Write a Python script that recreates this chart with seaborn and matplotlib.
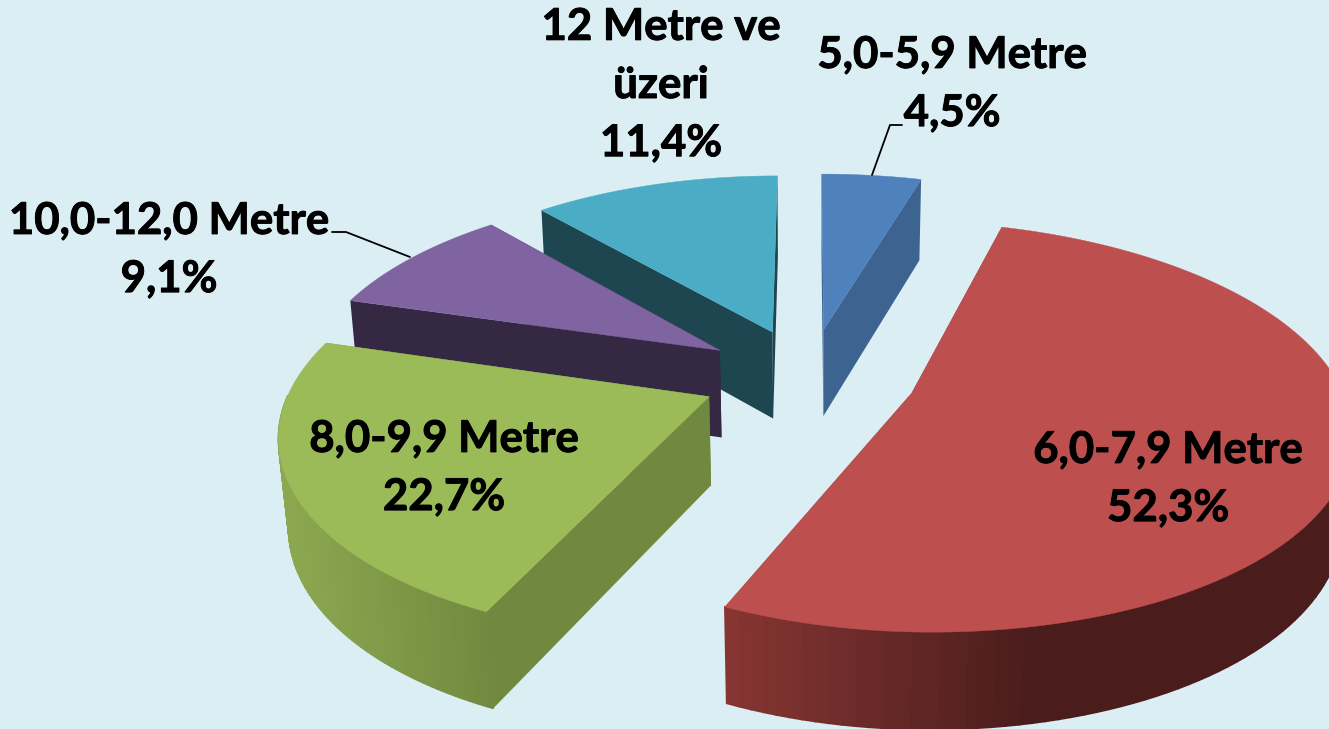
import numpy as np
import seaborn as sns
import matplotlib.pyplot as plt
import matplotlib.patheffects as pe
from matplotlib.colors import to_rgb

sns.set_style("white")

#%% Data
categories = ["5,0-5,9 Metre", "6,0-7,9 Metre", "8,0-9,9 Metre", "10,0-12,0 Metre", "12 Metre ve\nüzeri"]
shares = [4.5, 52.3, 22.7, 9.1, 11.4]
value_labels = ["4,5%", "52,3%", "22,7%", "9,1%", "11,4%"]

top_colors = ["#4f81bd", "#bd504e", "#9bbb59", "#8064a2", "#4bacc6"]
side_colors = ["#3d6491", "#883634", "#71893f", "#342842", "#1e4650"]
wall_colors = [("#3d6491", "#3d6491"), ("#883634", "#4a1d1c"), ("#8ba850", "#71893f"),
               ("#342842", "#342842"), ("#1e4650", "#1e4650")]
wall_x_range = [(800, 950), (720, 1030), (285, 490), (340, 500), (530, 780)]

label_pos = [(952, 84), (1168, 479), (444, 468), (169, 250), (661, 85)]

# projection of the tilted pie
CX, CY = 809, 376
RADIUS = 432
LEFT_SQUEEZE = 0.96
RIGHT_SQUEEZE = 0.985
EXPLODE = 108
TILT = 0.45
DIST = 2680
HEIGHT = 88
BG = "#daeef4"


def project(u, v, z=0.0):
    s = DIST / (DIST + v + 50 * z)
    s0 = DIST / (DIST + v)
    x = CX + u * s
    y = CY - TILT * v * s0 + HEIGHT * z * (1 + (s0 - 1) * 0.5)
    return x, y


def blend(c1, c2, t):
    c1, c2 = np.array(to_rgb(c1)), np.array(to_rgb(c2))
    return tuple(c1 + (c2 - c1) * np.clip(t, 0, 1))


#%% Wedges
fig = plt.figure(figsize=(13.29, 7.29), dpi=100, facecolor=BG)
ax = fig.add_axes([0, 0, 1, 1])
ax.set_xlim(0, 1329)
ax.set_ylim(729, 0)
ax.axis("off")

edges = np.concatenate([[0], np.cumsum(shares)]) / np.sum(shares) * 2 * np.pi

def wedge_outline(i, z):
    mid = (edges[i] + edges[i + 1]) / 2
    u0, v0 = EXPLODE * np.sin(mid), EXPLODE * np.cos(mid)
    t = np.linspace(edges[i], edges[i + 1], 120)
    du = RADIUS * np.sin(t)
    du = np.where(du < 0, du * LEFT_SQUEEZE, du * RIGHT_SQUEEZE)
    u = u0 + du
    v = v0 + RADIUS * np.cos(t)
    apex = project(u0, v0, z)
    arc_x, arc_y = project(u, v, z)
    return apex, arc_x, arc_y, t

# back to front
for i in [0, 4, 3, 2, 1]:
    a0, x0, y0, t = wedge_outline(i, 0.0)
    a1, x1, y1, t = wedge_outline(i, 1.0)
    # radial side faces
    ax.fill([a0[0], x0[0], x1[0], a1[0]], [a0[1], y0[0], y1[0], a1[1]], color=side_colors[i], lw=0)
    ax.fill([a0[0], x0[-1], x1[-1], a1[0]], [a0[1], y0[-1], y1[-1], a1[1]], color=side_colors[i], lw=0)
    # outer wall, shaded strip by strip, front half only
    lo, hi = wall_x_range[i]
    for j in range(len(x0) - 1):
        if np.cos(t[j]) > 0:
            continue
        col = blend(wall_colors[i][0], wall_colors[i][1], ((x0[j] + x0[j + 1]) / 2 - lo) / (hi - lo))
        ax.fill([x0[j], x0[j + 1], x1[j + 1], x1[j]], [y0[j], y0[j + 1], y1[j + 1], y1[j]], color=col, lw=1.2)
    # top face
    ax.fill(np.r_[a0[0], x0], np.r_[a0[1], y0], color=top_colors[i], lw=0.3)

#%% Labels
for i in range(len(shares)):
    ax.text(label_pos[i][0], label_pos[i][1], categories[i] + "\n" + value_labels[i],
            ha="center", va="center", ma="center", family="Lato", weight="bold",
            fontsize=31.5, linespacing=1.55, color="black", zorder=20,
            path_effects=[pe.withStroke(linewidth=0.7, foreground="black")])

# leader lines
ax.plot([872, 890, 902], [175, 125, 125], color="black", lw=1.3, zorder=15)
ax.plot([410, 346, 332], [257, 232, 232], color="black", lw=1.3, zorder=15)

plt.savefig("out.png", dpi=100, facecolor=BG)
